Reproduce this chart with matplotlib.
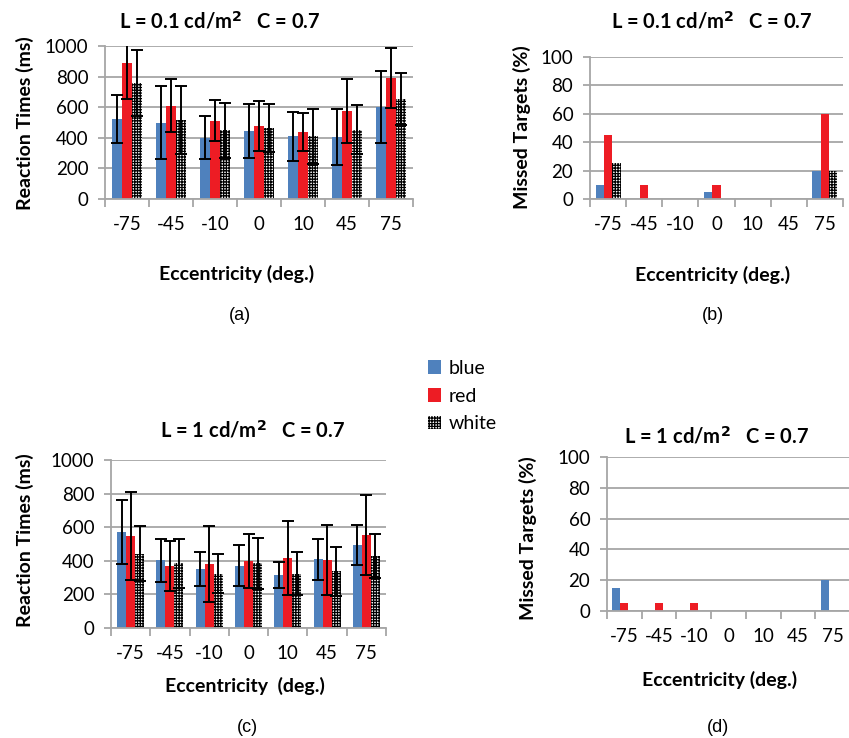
import matplotlib
matplotlib.use("Agg")
import matplotlib.pyplot as plt
import numpy as np
from matplotlib.patches import Patch

plt.rcParams['font.family'] = ['Lato', 'DejaVu Sans']
plt.rcParams['hatch.linewidth'] = 0.9

categories = ["-75", "-45", "-10", "0", "10", "45", "75"]
series = ["blue", "red", "white"]

# Panel (a): L = 0.1, reaction times
rt_a_blue = [525, 500, 400, 445, 410, 405, 600]
rt_a_red = [887, 611, 513, 478, 437, 576, 793]
rt_a_white = [757, 517, 448, 463, 409, 452, 654]
err_a_blue = [158, 240, 140, 175, 160, 180, 235]
err_a_red = [235, 175, 137, 162, 125, 210, 195]
err_a_white = [215, 220, 178, 155, 177, 160, 170]

# Panel (b): L = 0.1, missed targets
mt_b_blue = [10, 0, 0, 5, 0, 0, 20]
mt_b_red = [45, 10, 0, 10, 0, 0, 60]
mt_b_white = [25, 0, 0, 0, 0, 0, 20]

# Panel (c): L = 1, reaction times
rt_c_blue = [573, 404, 350, 370, 314, 408, 493]
rt_c_red = [547, 370, 380, 398, 417, 404, 553]
rt_c_white = [443, 384, 324, 384, 324, 338, 427]
err_c_blue = [190, 128, 102, 122, 78, 122, 120]
err_c_red = [262, 150, 228, 162, 220, 210, 240]
err_c_white = [162, 148, 115, 152, 127, 147, 131]

# Panel (d): L = 1, missed targets
mt_d_blue = [15, 0, 0, 0, 0, 0, 20]
mt_d_red = [5, 5, 5, 0, 0, 0, 0]
mt_d_white = [0, 0, 0, 0, 0, 0, 0]

BLUE = "#4F81BD"
RED = "#ED1C24"
GRID = "#A6A6A6"

W, H = 849, 738
fig = plt.figure(figsize=(W / 100, H / 100), dpi=100)


def axrect(l, r, t, b):
    return [l / W, 1 - b / H, (r - l) / W, (b - t) / H]


def style_axes(ax, ymax, step):
    n = len(categories)
    ax.set_xlim(0, n)
    ax.set_ylim(0, ymax)
    ax.set_yticks(np.arange(0, ymax + 1, step))
    ax.yaxis.grid(True, color=GRID, linewidth=1.3)
    ax.set_axisbelow(True)
    for s in ["top", "right"]:
        ax.spines[s].set_visible(False)
    for s in ["left", "bottom"]:
        ax.spines[s].set_color(GRID)
        ax.spines[s].set_linewidth(1.3)
    ax.set_xticks(np.arange(n) + 0.5)
    ax.set_xticklabels(categories, fontsize=13.5)
    ax.set_xticks(np.arange(n + 1), minor=True)
    ax.tick_params(axis="x", which="major", length=0, pad=12)
    ax.tick_params(axis="x", which="minor", length=6, width=1.3, color=GRID, direction="out")
    ax.tick_params(axis="y", length=5, width=1.3, color=GRID, labelsize=13.5, pad=7)


def draw_bars(ax, b, r, w, eb=None, er=None, ew=None, offset=0.5):
    x = np.arange(len(categories))
    bw = 0.23
    xb = x + offset - bw
    xr = x + offset
    xw = x + offset + bw
    ax.bar(xb, b, width=bw, color=BLUE, zorder=2)
    ax.bar(xr, r, width=bw, color=RED, zorder=2)
    ax.bar(xw, w, width=bw, color="white", edgecolor="black", hatch="++++++", linewidth=0, zorder=2)
    if eb is not None:
        kw = dict(fmt="none", ecolor="black", elinewidth=1.4, capsize=4, capthick=1.4, zorder=3)
        ax.errorbar(xb, b, yerr=eb, **kw)
        ax.errorbar(xr, r, yerr=er, **kw)
        ax.errorbar(xw, w, yerr=ew, **kw)


ax_a = fig.add_axes(axrect(105, 413, 46, 199))
style_axes(ax_a, 1000, 200)
draw_bars(ax_a, rt_a_blue, rt_a_red, rt_a_white, err_a_blue, err_a_red, err_a_white, offset=0.5)

ax_b = fig.add_axes(axrect(590, 843, 57, 199))
style_axes(ax_b, 100, 20)
draw_bars(ax_b, mt_b_blue, mt_b_red, mt_b_white, offset=0.5)

ax_c = fig.add_axes(axrect(111, 386, 460, 628))
style_axes(ax_c, 1000, 200)
draw_bars(ax_c, rt_c_blue, rt_c_red, rt_c_white, err_c_blue, err_c_red, err_c_white, offset=0.5)

ax_d = fig.add_axes(axrect(607, 850, 457, 611))
style_axes(ax_d, 100, 20)
draw_bars(ax_d, mt_d_blue, mt_d_red, mt_d_white, offset=0.5)


def ftext(x, y, s, **kw):
    fig.text(x / W, 1 - y / H, s, ha="center", va="center", **kw)


title1 = r"L = 0.1 cd/m$^\mathbf{2}$   C = 0.7"
title2 = r"L = 1 cd/m$^\mathbf{2}$   C = 0.7"
TS = 14.5
ftext(220, 21, title1, fontsize=TS, fontweight="bold")
ftext(712, 21, title1, fontsize=TS, fontweight="bold")
ftext(253, 430, title2, fontsize=TS, fontweight="bold")
ftext(717, 436, title2, fontsize=TS, fontweight="bold")

LS = 14
ftext(25, 123, "Reaction Times (ms)", fontsize=LS, fontweight="bold", rotation=90)
ftext(522, 127, "Missed Targets (%)", fontsize=LS, fontweight="bold", rotation=90)
ftext(25, 540, "Reaction Times (ms)", fontsize=LS, fontweight="bold", rotation=90)
ftext(528, 538, "Missed Targets (%)", fontsize=LS, fontweight="bold", rotation=90)

ftext(237, 274, "Eccentricity (deg.)", fontsize=LS, fontweight="bold")
ftext(713, 275, "Eccentricity (deg.)", fontsize=LS, fontweight="bold")
ftext(245, 686, "Eccentricity  (deg.)", fontsize=LS, fontweight="bold")
ftext(720, 680, "Eccentricity (deg.)", fontsize=LS, fontweight="bold")

SUB = dict(fontsize=13, family=["Liberation Sans", "DejaVu Sans"])
ftext(240, 316, "(a)", **SUB)
ftext(713, 316, "(b)", **SUB)
ftext(247, 728, "(c)", **SUB)
ftext(718, 728, "(d)", **SUB)

handles = [
    Patch(facecolor=BLUE, label=series[0]),
    Patch(facecolor=RED, label=series[1]),
    Patch(facecolor="white", edgecolor="black", hatch="++++++", linewidth=0, label=series[2]),
]
fig.legend(handles=handles, loc="center left", bbox_to_anchor=(418 / W, 1 - 396 / H),
           frameon=False, fontsize=14, handlelength=0.7, handleheight=0.7,
           handletextpad=0.4, labelspacing=0.55, borderpad=0)

fig.savefig("out.png", dpi=100)
